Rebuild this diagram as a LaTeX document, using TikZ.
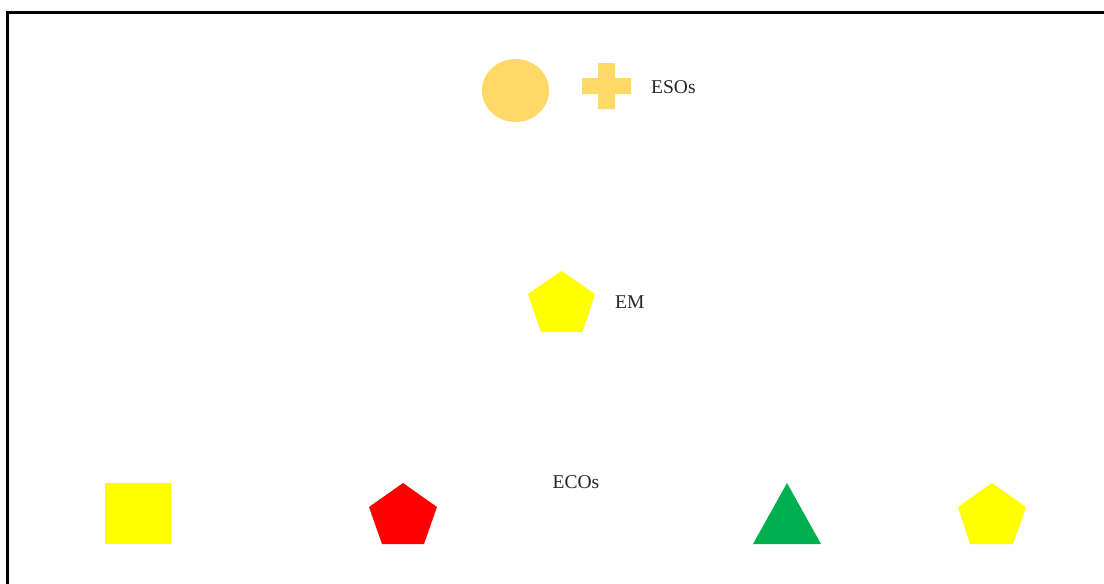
\documentclass[tikz,border=0pt]{standalone}
\usepackage{fontspec}
\setmainfont{Liberation Serif}
\begin{document}
\begin{tikzpicture}[x=1pt,y=-1pt,
  lbl/.style={inner sep=0pt,text=black!85,font=\fontsize{19.5}{21}\selectfont},
  frame/.style={line width=3pt,draw=black}]
\definecolor{gold}{HTML}{FFD966}
\definecolor{ylw}{HTML}{FFFF00}
\definecolor{red1}{HTML}{FF0000}
\definecolor{grn}{HTML}{00B050}
\useasboundingbox (0,0) rectangle (1104,584);
\fill[white] (0,0) rectangle (1104,584);
% frame (open at right and bottom)
\draw[frame] (7,584) -- (7,12) -- (1104,12);
% ESOs row
\fill[gold] (515.5,90.5) ellipse [x radius=33.5pt, y radius=31.5pt];
\fill[gold] (598,63) -- (615,63) -- (615,78) -- (631,78) -- (631,94) -- (615,94) -- (615,109) -- (598,109) -- (598,94) -- (582,94) -- (582,78) -- (598,78) -- cycle;
\node[lbl,anchor=west] (esos) at (651,87) {ESOs};
% EM row
\fill[ylw] (561.5,271) -- (595,294) -- (582.5,332) -- (541,332) -- (528,294) -- cycle;
\node[lbl,anchor=west] (em) at (615,302) {EM};
% ECOs row
\node[lbl] (ecos) at (576,482) {ECOs};
\fill[ylw] (105,483) rectangle (171,544);
\fill[red1] (403,483) -- (437,507) -- (424,544) -- (382,544) -- (369,507) -- cycle;
\fill[grn] (787,483) -- (821,544) -- (753,544) -- cycle;
\fill[ylw] (992,483) -- (1026,507) -- (1013,544) -- (970,544) -- (958,507) -- cycle;
\end{tikzpicture}
\end{document}
